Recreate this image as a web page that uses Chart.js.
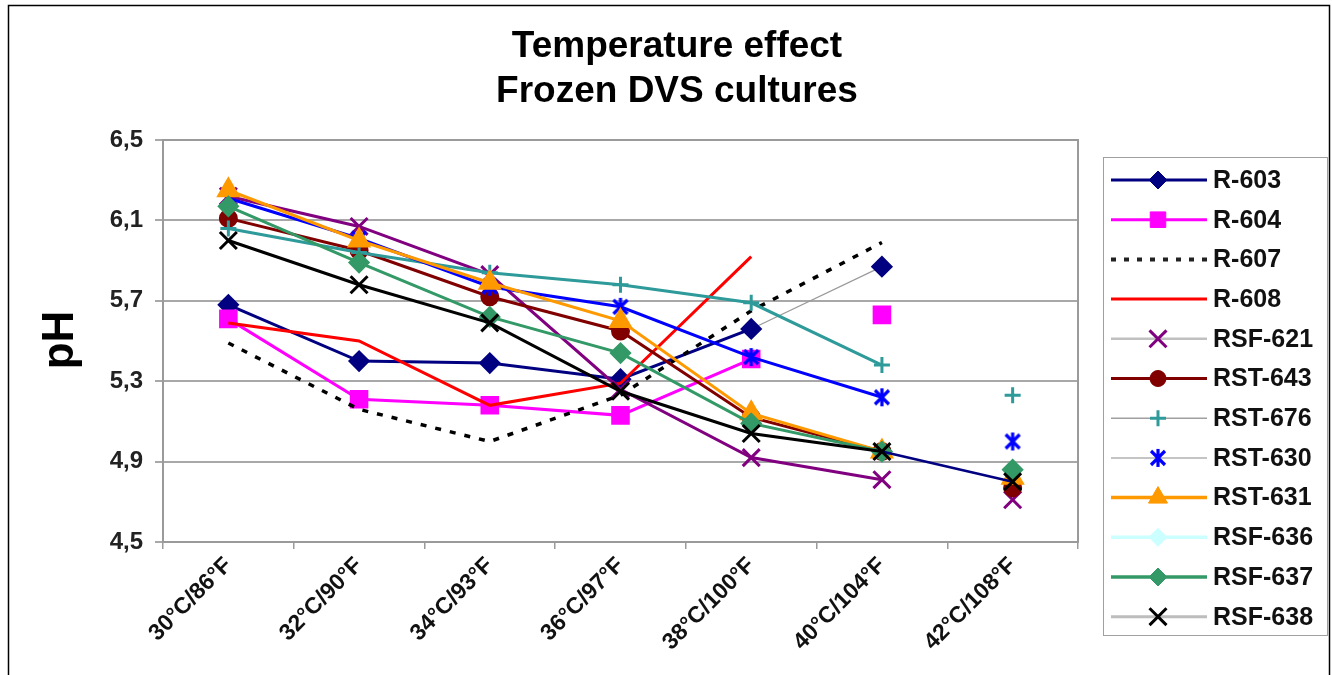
<!DOCTYPE html>
<html>
<head>
<meta charset="utf-8">
<script src="https://cdn.jsdelivr.net/npm/chart.js@4"></script>
<style>
html,body{margin:0;padding:0;background:#fff;}
#wrap{width:1332px;height:675px;position:relative;}
</style>
</head>
<body>
<div id="wrap"><canvas id="c" width="1332" height="675"></canvas></div>
<script>
const categories = ['30°C/86°F','32°C/90°F','34°C/93°F','36°C/97°F','38°C/100°F','40°C/104°F','42°C/108°F'];
const yTicks = [4.5, 4.9, 5.3, 5.7, 6.1, 6.5];
const titleLines = ['Temperature effect', 'Frozen DVS cultures'];
const yTitle = 'pH';

const r603   = [5.68, 5.40, 5.39, 5.31, 5.56, 5.87, null];
const r604   = [5.61, 5.21, 5.18, 5.13, 5.41, 5.63, null];
const r607   = [5.49, 5.16, 5.00, 5.23, 5.65, 5.99, null];
const r608   = [5.59, 5.50, 5.18, 5.29, 5.92, null, null];
const rsf621 = [6.22, 6.07, 5.83, 5.26, 4.92, 4.81, 4.71];
const rst643 = [6.11, 5.95, 5.72, 5.55, 5.12, 4.95, 4.77];
const rst676 = [6.06, 5.94, 5.84, 5.78, 5.69, 5.38, 5.23];
const rst630 = [6.21, 6.01, 5.77, 5.67, 5.42, 5.22, 5.00];
const rst631 = [6.25, 6.00, 5.79, 5.60, 5.14, 4.95, 4.82];
const rsf636 = [null, null, null, null, null, null, null];
const rsf637 = [6.17, 5.89, 5.62, 5.44, 5.09, 4.95, 4.86];
const rsf638 = [6.00, 5.78, 5.59, 5.25, 5.04, 4.95, 4.80];

const FONT = '"Liberation Sans", Arial, sans-serif';

// Excel-style "star" marker: X with a vertical bar
function starMarker(color) {
  const c = document.createElement('canvas');
  c.width = 20; c.height = 20;
  const g = c.getContext('2d');
  g.strokeStyle = color; g.lineWidth = 3.2; g.lineCap = 'butt';
  g.beginPath();
  g.moveTo(3, 3); g.lineTo(17, 17);
  g.moveTo(17, 3); g.lineTo(3, 17);
  g.moveTo(10, 1); g.lineTo(10, 19);
  g.stroke();
  return c;
}

// segment helper: special styling for the segment starting at a given index
function seg(idx, color, width, base) {
  return {
    borderColor: c => c.p0DataIndex === idx ? color : undefined,
    borderWidth: c => c.p0DataIndex === idx ? width : base
  };
}

function ds(label, data, color, opts) {
  return Object.assign({
    label: label, data: data,
    borderColor: color, backgroundColor: color,
    pointBackgroundColor: color, pointBorderColor: color,
    borderWidth: 3, pointRadius: 8, pointHoverRadius: 8,
    pointStyle: 'circle', tension: 0, spanGaps: false,
    legendLine: {color: color, width: 3, dash: []}
  }, opts);
}

const datasets = [
  ds('R-603', r603, '#000080', {pointStyle: 'rectRot', pointRadius: 9, segment: seg(4, '#9a9a9a', 1.2, 3)}),
  ds('R-604', r604, '#FF00FF', {pointStyle: 'rect', pointRadius: 11, segment: seg(4, 'rgba(0,0,0,0)', 0, 3)}),
  ds('R-607', r607, '#000000', {pointRadius: 0, borderWidth: 3.5, borderDash: [6, 9], legendLine: {color: '#222', width: 4, dash: [5, 8]}}),
  ds('R-608', r608, '#FF0000', {pointRadius: 0, legendLine: {color: '#FF0000', width: 3, dash: []}}),
  ds('RSF-621', rsf621, '#800080', {pointStyle: 'crossRot', pointRadius: 12, pointBorderWidth: 3, segment: seg(5, 'rgba(0,0,0,0)', 0, 3), legendLine: {color: '#c0c0c0', width: 2.5, dash: []}}),
  ds('RST-643', rst643, '#800000', {pointStyle: 'circle', pointRadius: 8, segment: seg(5, 'rgba(0,0,0,0)', 0, 3)}),
  ds('RST-676', rst676, '#2E9A9A', {pointStyle: 'cross', pointRadius: 8, pointBorderWidth: 3, segment: seg(5, 'rgba(0,0,0,0)', 0, 3), legendLine: {color: '#a0a0a0', width: 1.5, dash: []}}),
  ds('RST-630', rst630, '#0000FF', {pointStyle: starMarker('#0000FF'), pointRadius: 10, pointBorderWidth: 3, segment: seg(5, 'rgba(0,0,0,0)', 0, 3), legendLine: {color: '#b0b0b0', width: 1.5, dash: []}}),
  ds('RST-631', rst631, '#FF9900', {pointStyle: 'triangle', pointRadius: 11, segment: seg(5, 'rgba(0,0,0,0)', 0, 3), legendLine: {color: '#FF9900', width: 3.5, dash: []}}),
  ds('RSF-636', rsf636, '#CCFFFF', {pointStyle: 'rectRot', pointRadius: 9, legendLine: {color: '#CCFFFF', width: 3.5, dash: []}}),
  ds('RSF-637', rsf637, '#339966', {pointStyle: 'rectRot', pointRadius: 9, segment: seg(5, 'rgba(0,0,0,0)', 0, 3), legendLine: {color: '#339966', width: 3.5, dash: []}}),
  ds('RSF-638', rsf638, '#000000', {pointStyle: 'crossRot', pointRadius: 12, pointBorderWidth: 3, segment: seg(5, '#000080', 2.5, 3), legendLine: {color: '#bdbdbd', width: 3, dash: []}})
];
// Excel draws later series on top
datasets.forEach((d, i) => { d.order = datasets.length - i; });

const decor = {
  id: 'decor',
  beforeDraw(chart) {
    const ctx = chart.ctx;
    ctx.save();
    ctx.fillStyle = '#fff';
    ctx.fillRect(0, 0, chart.width, chart.height);
    ctx.restore();
  },
  afterDraw(chart) {
    const ctx = chart.ctx;
    const ca = chart.chartArea;
    ctx.save();
    // outer frame
    ctx.strokeStyle = '#000';
    ctx.lineWidth = 1.5;
    ctx.strokeRect(8.5, 5.5, 1321, 700);
    // plot frame
    ctx.strokeStyle = '#9a9a9a';
    ctx.lineWidth = 2;
    ctx.strokeRect(ca.left, ca.top, ca.right - ca.left, ca.bottom - ca.top);
    // title
    ctx.fillStyle = '#000';
    ctx.font = 'bold 37px ' + FONT;
    ctx.textAlign = 'center';
    ctx.textBaseline = 'middle';
    ctx.fillText(titleLines[0], 677, 47);
    ctx.fillText(titleLines[1], 677, 92);
    // y title
    ctx.save();
    ctx.translate(61, 340);
    ctx.rotate(-Math.PI / 2);
    ctx.font = 'bold 44px ' + FONT;
    ctx.fillText(yTitle, 0, 0);
    ctx.restore();
    // legend
    const lx = 1103, ly = 157, lw = 224, lh = 478;
    ctx.strokeStyle = '#a0a0a0';
    ctx.lineWidth = 1;
    ctx.strokeRect(lx + 0.5, ly + 0.5, lw, lh);
    chart.data.datasets.forEach((d, i) => {
      const y = 180 + i * 39.7;
      const L = d.legendLine;
      ctx.save();
      ctx.strokeStyle = L.color;
      ctx.lineWidth = L.width;
      ctx.setLineDash(L.dash);
      ctx.beginPath();
      ctx.moveTo(1111, y);
      ctx.lineTo(1207, y);
      ctx.stroke();
      ctx.restore();
      if (d.pointRadius > 0) {
        ctx.save();
        ctx.fillStyle = d.pointBackgroundColor;
        ctx.strokeStyle = d.pointBorderColor;
        ctx.lineWidth = d.pointBorderWidth || 1;
        Chart.helpers.drawPoint(ctx, {pointStyle: d.pointStyle, radius: d.pointRadius, rotation: 0, borderWidth: d.pointBorderWidth || 1}, 1158, y);
        ctx.restore();
      }
      ctx.fillStyle = '#111';
      ctx.font = 'bold 25px ' + FONT;
      ctx.textAlign = 'left';
      ctx.textBaseline = 'middle';
      ctx.fillText(d.label, 1213, y + 1);
    });
    ctx.restore();
  }
};

new Chart(document.getElementById('c'), {
  type: 'line',
  data: {labels: categories, datasets: datasets},
  options: {
    responsive: false,
    animation: false,
    devicePixelRatio: 1,
    layout: {padding: {left: 0, right: 254, top: 140, bottom: 0}},
    plugins: {legend: {display: false}, title: {display: false}, tooltip: {enabled: false}},
    elements: {line: {borderCapStyle: 'butt'}},
    scales: {
      x: {
        type: 'category',
        offset: true,
        afterFit(scale) { scale.height = 133; },
        grid: {offset: true, drawOnChartArea: false, drawTicks: true, tickLength: 7, color: '#9a9a9a', lineWidth: 1.5},
        border: {display: true, color: '#9a9a9a', width: 2},
        ticks: {minRotation: 45, maxRotation: 45, autoSkip: false, padding: 3, color: '#111', font: {family: FONT, size: 23, weight: 'bold'}}
      },
      y: {
        min: 4.5, max: 6.5,
        afterFit(scale) { scale.width = 163; },
        afterBuildTicks(scale) { scale.ticks = yTicks.map(v => ({value: v})); },
        grid: {color: '#a8a8a8', lineWidth: 2, tickLength: 8, drawTicks: true},
        border: {display: true, color: '#9a9a9a', width: 2},
        ticks: {
          padding: 12, color: '#222',
          font: {family: FONT, size: 24, weight: 'bold'},
          callback: v => Number(v).toFixed(1).replace('.', ',')
        }
      }
    }
  },
  plugins: [decor]
});
</script>
</body>
</html>
